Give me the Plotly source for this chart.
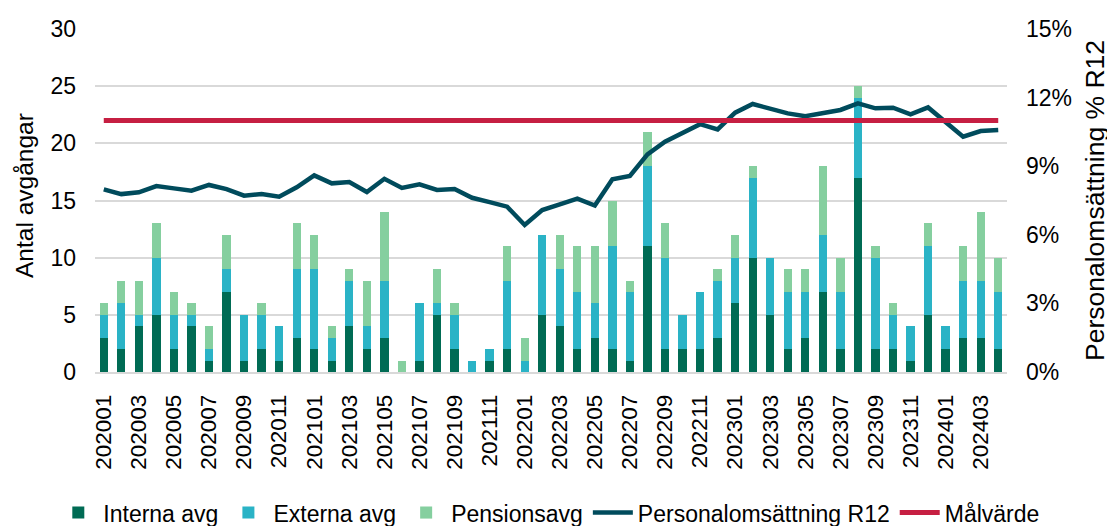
import plotly.graph_objects as go

months = [f"{y}{m:02d}" for y in (2020, 2021, 2022, 2023) for m in range(1, 13)] + ["202401", "202402", "202403", "202404"]

interna = [3, 2, 4, 5, 2, 4, 1, 7, 1, 2, 1, 3,
           2, 1, 4, 2, 3, 0, 1, 5, 2, 0, 1, 2,
           0, 5, 4, 2, 3, 2, 1, 11, 2, 2, 2, 3,
           6, 10, 5, 2, 3, 7, 2, 17, 2, 2, 1, 5,
           2, 3, 3, 2]
externa = [2, 4, 1, 5, 3, 1, 1, 2, 4, 3, 3, 6,
           7, 2, 4, 2, 5, 0, 5, 1, 3, 1, 1, 6,
           1, 7, 5, 5, 3, 9, 6, 7, 8, 3, 5, 5,
           4, 7, 5, 5, 4, 5, 5, 7, 8, 3, 3, 6,
           2, 5, 5, 5]
pension = [1, 2, 3, 3, 2, 1, 2, 3, 0, 1, 0, 4,
           3, 1, 1, 4, 6, 1, 0, 3, 1, 0, 0, 3,
           2, 0, 3, 4, 5, 4, 1, 3, 3, 0, 0, 1,
           2, 1, 0, 2, 2, 6, 3, 1, 1, 1, 0, 2,
           0, 3, 6, 3]
omsattning = [7.99, 7.78, 7.86, 8.13, 8.03, 7.93, 8.18, 8.00, 7.71, 7.78, 7.67, 8.08,
              8.60, 8.25, 8.31, 7.87, 8.45, 8.05, 8.21, 7.96, 8.00, 7.62, 7.43, 7.23,
              6.43, 7.08, 7.33, 7.58, 7.28, 8.43, 8.57, 9.52, 10.07, 10.44, 10.84, 10.61,
              11.34, 11.72, 11.50, 11.31, 11.19, 11.34, 11.46, 11.75, 11.53, 11.56, 11.27, 11.57,
              10.94, 10.29, 10.54, 10.58]
malvarde = [11.0] * len(months)

tick_labels = months[::2]
left_title = "Antal avgångar"
right_title = "Personalomsättning % R12"

FONT = "Liberation Sans, Arial, sans-serif"
C_INT = "#006B54"
C_EXT = "#2AB3C6"
C_PEN = "#85CF9F"
C_LINE = "#004B5C"
C_RED = "#C61F42"

fig = go.Figure()
fig.add_trace(go.Bar(x=months, y=interna, name="Interna avg", marker=dict(color=C_INT, line=dict(width=0))))
fig.add_trace(go.Bar(x=months, y=externa, name="Externa avg", marker=dict(color=C_EXT, line=dict(width=0))))
fig.add_trace(go.Bar(x=months, y=pension, name="Pensionsavg", marker=dict(color=C_PEN, line=dict(width=0))))
fig.add_trace(go.Scatter(x=months, y=[v / 100 for v in omsattning], name="Personalomsättning R12",
                         mode="lines", line=dict(color=C_LINE, width=4.5), yaxis="y2"))
fig.add_trace(go.Scatter(x=months, y=[v / 100 for v in malvarde], name="Målvärde",
                         mode="lines", line=dict(color=C_RED, width=5), yaxis="y2"))

fig.update_layout(
    width=1107, height=518,
    paper_bgcolor="white", plot_bgcolor="white",
    font=dict(family=FONT, size=23, color="#000000"),
    barmode="stack", bargap=0.53,
    margin=dict(l=87, r=108, t=21, b=154, autoexpand=False),
    xaxis=dict(type="category", tickmode="array", tickvals=tick_labels, ticktext=tick_labels,
               tickangle=-90, showgrid=False, showline=True, linecolor="#d9d9d9", linewidth=1.5,
               ticks="", ticklabelstandoff=12, tickfont=dict(size=22.5)),
    yaxis=dict(range=[0, 30], dtick=5, showgrid=True, gridcolor="#d9d9d9", gridwidth=1.5,
               zeroline=False, ticks="", ticklabelstandoff=18),
    yaxis2=dict(range=[0, 0.15], dtick=0.03, tickformat=".0%", overlaying="y", side="right",
                showgrid=False, zeroline=False, ticks="", ticklabelstandoff=18),
    legend=dict(orientation="h", xref="paper", yref="paper", x=1.042, xanchor="right",
                y=-0.41, yanchor="middle", font=dict(size=23), itemwidth=40,
                traceorder="normal", bgcolor="rgba(0,0,0,0)"),
    showlegend=True,
    annotations=[
        dict(text=left_title, xref="paper", yref="paper", x=-0.0779, y=0.516,
             xanchor="center", yanchor="middle", textangle=-90, showarrow=False,
             font=dict(size=24.5)),
        dict(text=right_title, xref="paper", yref="paper", x=1.0965, y=0.4985,
             xanchor="center", yanchor="middle", textangle=-90, showarrow=False,
             font=dict(size=26.5)),
    ],
)

fig.write_html("out.html")
